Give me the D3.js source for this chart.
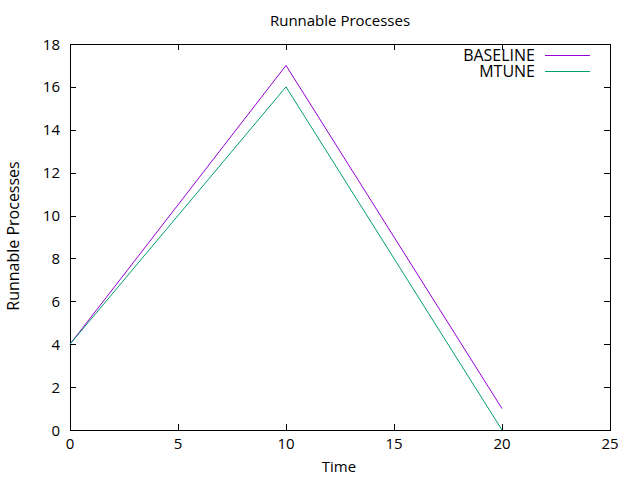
<!DOCTYPE html>
<html><head><meta charset="utf-8">
<script src="https://cdn.jsdelivr.net/npm/d3@7"></script>
<style>body{margin:0;background:#fff}svg{display:block}text{font-family:"Open Sans",sans-serif}</style>
</head><body>
<svg id="c" width="640" height="480"></svg>
<script>
const times = [0, 10, 20];
const baseline = [4, 17, 1];
const mtune = [4, 16, 0];
const xTicks = [0, 5, 10, 15, 20, 25];
const yTicks = [0, 2, 4, 6, 8, 10, 12, 14, 16, 18];
const seriesNames = ["BASELINE", "MTUNE"];
const seriesColors = ["#9400d3", "#009e73"];

const svg = d3.select("#c");
const L = 70, R = 610, T = 44, B = 430;
const x = d3.scaleLinear().domain([0, 25]).range([L, R]);
const y = d3.scaleLinear().domain([0, 18]).range([B, T]);
const tl = 6;

const g = svg.append("g");
g.append("rect").attr("x", L + 0.5).attr("y", T + 0.5).attr("width", R - L).attr("height", B - T)
  .attr("fill", "none").attr("stroke", "#000").attr("stroke-width", 1);

const fs = 15;
xTicks.forEach(v => {
  const px = Math.round(x(v)) + 0.5;
  g.append("line").attr("x1", px).attr("x2", px).attr("y1", B).attr("y2", B - tl).attr("stroke", "#000");
  g.append("line").attr("x1", px).attr("x2", px).attr("y1", T).attr("y2", T + tl).attr("stroke", "#000");
  g.append("text").attr("x", x(v)).attr("y", B + 19).attr("text-anchor", "middle").attr("font-size", fs).text(v);
});
yTicks.forEach(v => {
  const py = Math.round(y(v)) + 0.5;
  g.append("line").attr("x1", L).attr("x2", L + tl).attr("y1", py).attr("y2", py).attr("stroke", "#000");
  g.append("line").attr("x1", R).attr("x2", R - tl).attr("y1", py).attr("y2", py).attr("stroke", "#000");
  g.append("text").attr("x", L - 10).attr("y", y(v) + 5.5).attr("text-anchor", "end").attr("font-size", fs).text(v);
});

svg.append("text").attr("x", 340).attr("y", 26).attr("text-anchor", "middle").attr("font-size", 15).text("Runnable Processes");
svg.append("text").attr("x", 339).attr("y", 472).attr("text-anchor", "middle").attr("font-size", 15).text("Time");
svg.append("text").attr("transform", "translate(19,236) rotate(-90)").attr("text-anchor", "middle").attr("font-size", 16).text("Runnable Processes");

const line = d3.line().x(d => x(d[0])).y(d => y(d[1]));
[baseline, mtune].forEach((s, i) => {
  svg.append("path").datum(times.map((t, j) => [t, s[j]]))
    .attr("d", line).attr("fill", "none").attr("stroke", seriesColors[i]).attr("stroke-width", 1);
});

seriesNames.forEach((n, i) => {
  const ly = 55 + i * 16;
  svg.append("text").attr("x", 535).attr("y", ly + 5.5).attr("text-anchor", "end").attr("font-size", 16).text(n);
  svg.append("line").attr("x1", 545).attr("x2", 590).attr("y1", ly + 0.5).attr("y2", ly + 0.5)
    .attr("stroke", seriesColors[i]).attr("stroke-width", 1);
});
</script>
</body></html>
